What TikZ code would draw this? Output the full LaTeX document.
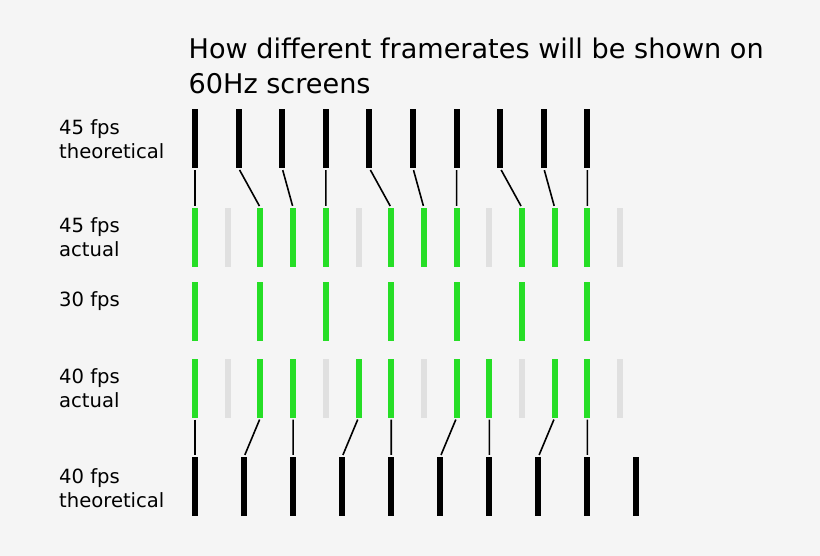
\documentclass[tikz,border=0pt]{standalone}
\usepackage{fontspec}
\setmainfont{DejaVu Sans}
\definecolor{bg}{RGB}{245,245,245}
\definecolor{fgreen}{RGB}{38,222,38}
\definecolor{fgrey}{RGB}{224,224,224}
\begin{document}
\begin{tikzpicture}[x=1pt,y=-1pt,
  bar/.style={rectangle,inner sep=0pt,minimum width=6pt,minimum height=59pt,draw=none},
  blackbar/.style={bar,fill=black},
  greenbar/.style={bar,fill=fgreen},
  greybar/.style={bar,fill=fgrey},
  conn/.style={draw=black,line width=1.6pt,shorten <=2pt,shorten >=2pt},
  lab/.style={anchor=base west,inner sep=0pt,font=\fontsize{19.6}{24}\selectfont},
  ttl/.style={anchor=base west,inner sep=0pt,font=\fontsize{27.1}{34}\selectfont}]
\fill[bg] (0,0) rectangle (820,556);
\useasboundingbox (0,0) rectangle (820,556);
% title
\node[ttl] (title1) at (188.5,59) {How different framerates will be shown on};
\node[ttl] (title2) at (188.5,94) {60Hz screens};
% labels
\node[lab] (l1a) at (59,135) {45 fps};
\node[lab] (l1b) at (59,159) {theoretical};
\node[lab] (l2a) at (59,233) {45 fps};
\node[lab] (l2b) at (59,257) {actual};
\node[lab] (l3a) at (59,307) {30 fps};
\node[lab] (l4a) at (59,383) {40 fps};
\node[lab] (l4b) at (59,407) {actual};
\node[lab] (l5a) at (59,483) {40 fps};
\node[lab] (l5b) at (59,507) {theoretical};
% row 1: 45 fps theoretical
\foreach \j in {0,...,9} \node[blackbar] (t45-\j) at ({195+43.6*\j},138.5) {};
% row 2: 45 fps actual
\foreach \k in {0,2,3,4,6,7,8,10,11,12} \node[greenbar] (a45-\k) at ({195+32.7*\k},237.5) {};
\foreach \k in {1,5,9,13} \node[greybar] (a45-\k) at ({195+32.7*\k},237.5) {};
% row 3: 30 fps
\foreach \k in {0,2,4,6,8,10,12} \node[greenbar] (f30-\k) at ({195+32.7*\k},311.5) {};
% row 4: 40 fps actual
\foreach \k in {0,2,3,5,6,8,9,11,12} \node[greenbar] (a40-\k) at ({195+32.7*\k},388) {};
\foreach \k in {1,4,7,10,13} \node[greybar] (a40-\k) at ({195+32.7*\k},388) {};
% row 5: 40 fps theoretical
\foreach \j in {0,...,9} \node[blackbar] (t40-\j) at ({195+49.05*\j},486.5) {};
% connectors
\foreach \j/\k in {0/0,1/2,2/3,3/4,4/6,5/7,6/8,7/10,8/11,9/12}
  \draw[conn] (t45-\j.south) -- (a45-\k.north);
\foreach \k/\j in {0/0,2/1,3/2,5/3,6/4,8/5,9/6,11/7,12/8}
  \draw[conn] (a40-\k.south) -- (t40-\j.north);
\end{tikzpicture}
\end{document}
